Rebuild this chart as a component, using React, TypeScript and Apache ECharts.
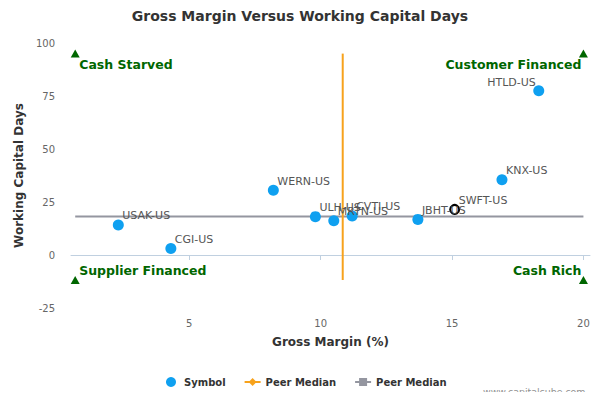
import React, { useEffect, useRef } from "react";
import * as echarts from "echarts";

// peer symbols and their values
const symbols = ["USAK-US", "CGI-US", "WERN-US", "ULH-US", "MRTN-US", "CVTI-US", "JBHT-US", "SWFT-US", "KNX-US", "HTLD-US"];
const grossMargin = [2.3, 4.3, 8.2, 9.8, 10.5, 11.2, 13.7, 15.1, 16.9, 18.3];
const workingCapitalDays = [14.2, 3.1, 30.5, 18.1, 16.2, 18.4, 16.8, 21.5, 35.5, 77.5];
const highlighted = "SWFT-US";

const peerMedianGross = 10.84;
const peerMedianDays = 18.2;

const quadrantNames = ["Cash Starved", "Customer Financed", "Supplier Financed", "Cash Rich"];
const quadrantX = [0.66, 20, 0.66, 20];
const quadrantY = [95, 95, -11.8, -11.8];

const xTicks = [5, 10, 15, 20];
const yTicks = [-25, 0, 25, 50, 75, 100];

const FONT = "DejaVu Sans, Verdana, sans-serif";
const BLUE = "#0fa0f0";
const GREEN = "#006600";

const App: React.FC = () => {
    const ref = useRef<HTMLDivElement | null>(null);

    useEffect(() => {
        if (!ref.current) return;
        const inst = echarts.init(ref.current, null, { renderer: "svg" });

        const points = symbols.map((s, i) => {
            const isMe = s === highlighted;
            return {
                name: s,
                value: [grossMargin[i], workingCapitalDays[i]],
                symbolSize: isMe ? 9 : 11,
                itemStyle: isMe
                    ? { color: "#ffffff", borderColor: "#000000", borderWidth: 2, opacity: 1 }
                    : { color: BLUE, opacity: 1 },
                label:
                    s === "HTLD-US"
                        ? { align: "right", offset: [-3, -8] }
                        : undefined,
            };
        });

        const corners = quadrantNames.map((n, i) => {
            const right = quadrantX[i] > 10;
            const top = quadrantY[i] > 50;
            return {
                name: n,
                value: [quadrantX[i], quadrantY[i]],
                label: {
                    align: right ? "right" : "left",
                    offset: [right ? -2 : 4, top ? 11 : -10],
                },
            };
        });

        inst.setOption({
            animation: false,
            textStyle: { fontFamily: FONT },
            title: {
                text: "Gross Margin Versus Working Capital Days",
                left: "center",
                top: 9,
                padding: 0,
                textStyle: { fontSize: 14, fontWeight: "bold", color: "#333333", fontFamily: FONT },
            },
            legend: {
                left: 161,
                top: 372,
                itemWidth: 16,
                itemHeight: 10,
                itemGap: 18,
                data: ["Symbol", "Peer Median X", "Peer Median Y"],
                formatter: (n: string) => (n.startsWith("Peer Median") ? "Peer Median" : n),
                textStyle: { fontSize: 10, fontWeight: "bold", color: "#333333", fontFamily: FONT },
            },
            graphic: [
                {
                    type: "text",
                    left: 483,
                    top: 387,
                    z: 100,
                    style: { text: "www.capitalcube.com", fill: "#909090", fontSize: 9.4, fontFamily: FONT },
                },
            ],
            grid: { left: 71, right: 10, top: 43, bottom: 92 },
            xAxis: {
                type: "value",
                min: 0.5,
                max: 20.25,
                name: "Gross Margin (%)",
                nameLocation: "middle",
                nameGap: 28,
                nameTextStyle: { fontSize: 12, fontWeight: "bold", color: "#333333", fontFamily: FONT },
                splitLine: { show: false },
                axisLine: { show: true, lineStyle: { color: "#c0d0e0", width: 1 } },
                axisTick: { show: true, customValues: xTicks, length: 5, lineStyle: { color: "#c0d0e0" } },
                axisLabel: { customValues: xTicks, margin: 10, fontSize: 10, color: "#666666", fontFamily: FONT },
            },
            yAxis: {
                type: "value",
                min: -25,
                max: 100,
                interval: 25,
                name: "Working Capital Days",
                nameLocation: "middle",
                nameGap: 44,
                nameTextStyle: { fontSize: 12, fontWeight: "bold", color: "#333333", fontFamily: FONT },
                splitLine: { show: false },
                axisLine: { show: false },
                axisTick: { show: false },
                axisLabel: { margin: 16, fontSize: 10, color: "#666666", fontFamily: FONT, customValues: yTicks },
            },
            series: [
                {
                    name: "Peer Median Y",
                    type: "line",
                    data: [
                        [quadrantX[0], peerMedianDays],
                        [quadrantX[1], peerMedianDays],
                    ],
                    symbol: "rect",
                    showSymbol: false,
                    lineStyle: { color: "#9496a0", width: 2 },
                    itemStyle: { color: "#9496a0" },
                    z: 1,
                },
                {
                    name: "Peer Median X",
                    type: "line",
                    data: [
                        [peerMedianGross, quadrantY[0]],
                        [peerMedianGross, quadrantY[2]],
                    ],
                    symbol: "diamond",
                    showSymbol: false,
                    lineStyle: { color: "#f7a21c", width: 2 },
                    itemStyle: { color: "#f7a21c" },
                    z: 2,
                },
                {
                    name: "Symbol",
                    type: "scatter",
                    data: points,
                    itemStyle: { color: BLUE, opacity: 1 },
                    label: {
                        show: true,
                        position: "inside",
                        align: "left",
                        verticalAlign: "middle",
                        offset: [4, -9],
                        formatter: (p: any) => p.name,
                        fontSize: 11,
                        color: "#555555",
                        textBorderWidth: 0,
                        fontFamily: FONT,
                    },
                    z: 3,
                },
                {
                    name: "Quadrants",
                    type: "scatter",
                    data: corners,
                    symbol: "triangle",
                    symbolSize: [9, 8],
                    itemStyle: { color: GREEN, opacity: 1 },
                    label: {
                        show: true,
                        position: "inside",
                        verticalAlign: "middle",
                        formatter: (p: any) => p.name,
                        fontSize: 12.5,
                        fontWeight: "bold",
                        color: GREEN,
                        textBorderWidth: 0,
                        fontFamily: FONT,
                    },
                    z: 4,
                },
            ],
        });

        return () => inst.dispose();
    }, []);

    return <div ref={ref} style={{ width: 600, height: 400, margin: -8 }} />;
};

export default App;
